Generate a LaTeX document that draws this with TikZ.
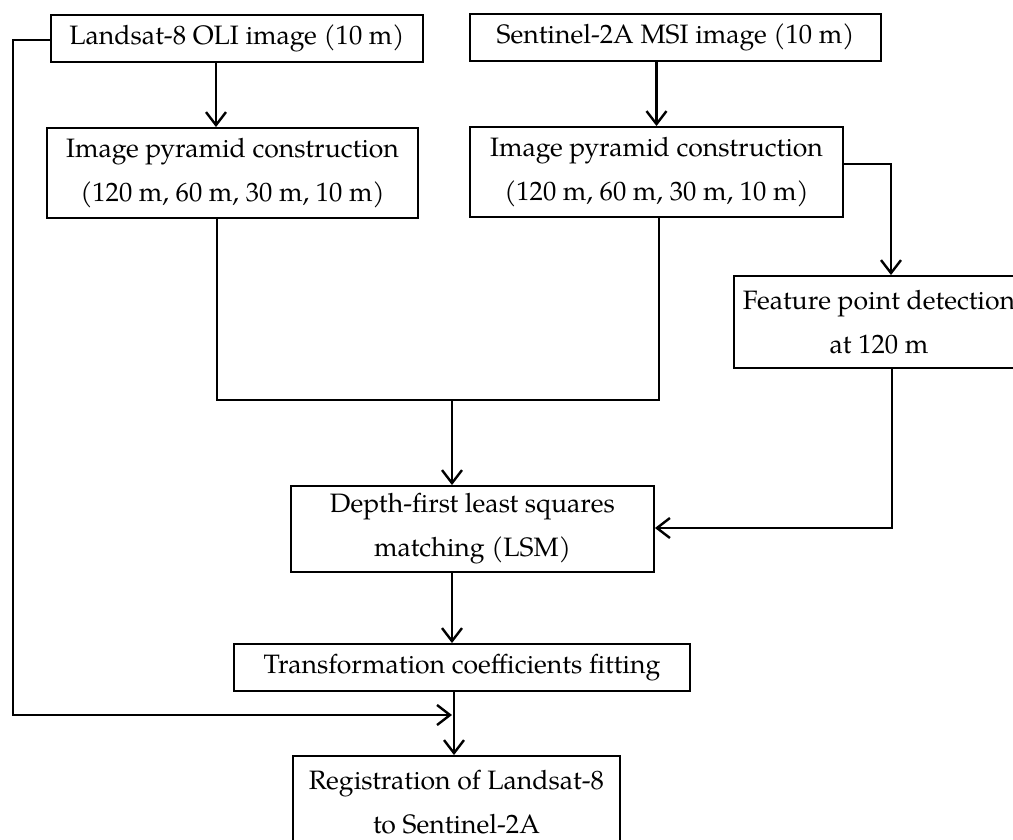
\documentclass[tikz,border=0pt]{standalone}
\usepackage{fontspec}
\setmainfont{TeX Gyre Pagella}
\usetikzlibrary{arrows.meta}
\begin{document}
\begin{tikzpicture}[x=1pt,y=-1pt,
  box/.style={draw, line width=1.9pt, inner sep=0pt, align=center, font=\fontsize{26.6}{44}\selectfont},
  conn/.style={line width=2.6pt},
  arr/.style={conn, -{Straight Barb[length=13pt,width=20pt,line width=2.4pt]}}]
\useasboundingbox (0,0) rectangle (1013,839);
\clip (0,0) rectangle (1013,839);
% boxes
\node[box, minimum width=372pt, minimum height=47pt] (land) at (237,38.5) {Landsat-8 OLI image (10 m)};
\node[box, minimum width=411pt, minimum height=47pt] (sent) at (675.5,37.5) {Sentinel-2A MSI image (10 m)};
\node[box, minimum width=371pt, minimum height=90pt] (pyrL) at (232.5,173) {Image pyramid construction\\(120 m, 60 m, 30 m, 10 m)};
\node[box, minimum width=373pt, minimum height=90pt] (pyrR) at (656.5,172) {Image pyramid construction\\(120 m, 60 m, 30 m, 10 m)};
\node[box, minimum width=290pt, minimum height=92pt] (feat) at (879,322) {Feature point detection\\at 120 m};
\node[box, minimum width=363pt, minimum height=86pt] (lsm) at (472.5,529) {Depth-first least squares\\matching (LSM)};
\node[box, minimum width=456pt, minimum height=47pt] (trans) at (462,667.5) {Transformation coefficients fitting};
\node[box, minimum width=327pt, minimum height=92pt] (reg) at (456.5,802) {Registration of Landsat-8\\to Sentinel-2A};
% helper coordinates
\coordinate (cA) at (216,0);
\coordinate (cL) at (217,400);
\coordinate (cM) at (452,400);
\coordinate (cR) at (659,400);
\coordinate (cF) at (891,164);
\coordinate (cG) at (892,528);
\coordinate (cT) at (454,0);
\coordinate (cW) at (13,40);
\coordinate (cB) at (13,715);
\coordinate (cE) at (452,715);
% connectors
\draw[arr] (land.south -| cA) -- (pyrL.north -| cA);
\draw[arr] (sent.south -| pyrR.north) -- (pyrR.north);
\draw[arr] (pyrR.east |- cF) -- (cF) -- (feat.north -| cF);
\draw[conn] (pyrL.south -| cL) -- (cL) -- (cR) -- (pyrR.south -| cR);
\draw[arr] (cM) -- (lsm.north -| cM);
\draw[arr] (feat.south -| cG) -- (cG) -- (lsm.east |- cG);
\draw[arr] (lsm.south -| cM) -- (trans.north -| cM);
\draw[arr] (trans.south -| cT) -- (reg.north -| cT);
\draw[arr] (land.west |- cW) -- (cW) -- (cB) -- (cE);
\end{tikzpicture}
\end{document}
